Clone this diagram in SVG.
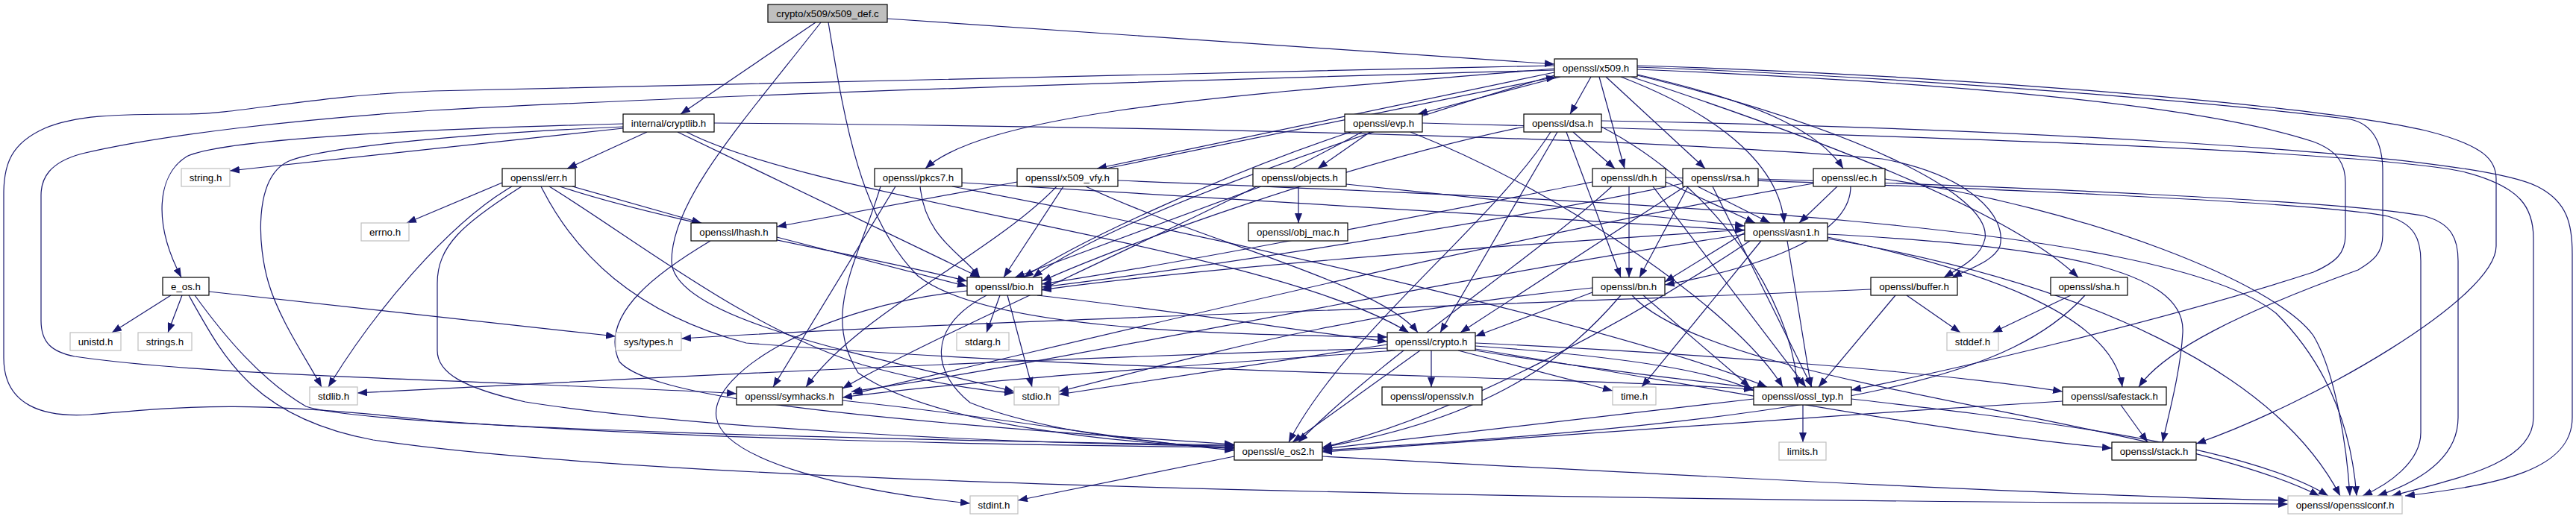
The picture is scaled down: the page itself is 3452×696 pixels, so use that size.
<svg xmlns="http://www.w3.org/2000/svg" width="3452" height="696" viewBox="0 0 3452 696">
<style>
.e{fill:none;stroke:#191970;stroke-width:1.2;marker-end:url(#ah)}
.b rect{fill:#fff;stroke:#000;stroke-width:1.2}
.g rect{fill:#fff;stroke:#bfbfbf;stroke-width:1.2}
.r rect{fill:#bfbfbf;stroke:#000;stroke-width:1.2}
text{font-family:"Liberation Sans",Arial,Helvetica,sans-serif;font-size:13.3px;fill:#000;text-anchor:middle}
</style>
<defs>
<marker id="ah" markerUnits="userSpaceOnUse" markerWidth="13" markerHeight="10" viewBox="0 0 13 10" refX="13" refY="5" orient="auto">
<path d="M0,0 L13,5 L0,10 z" fill="#191970"/>
</marker>
</defs>
<rect width="3452" height="696" fill="#fff"/>
<g id="edges">
<path class="e" d="M1093,30 L912,153"/>
<path class="e" d="M1189,25 L2083,86"/>
<path class="e" d="M1100,30 C990,170 900,270 900,350 C900,430 1180,480 1359,525"/>
<path class="e" d="M1110,30 C1130,150 1150,290 1230,370 C1320,440 1600,448 1859,452"/>
<path class="e" d="M2091,103 L1900,153"/>
<path class="e" d="M2132,103 L2104,153"/>
<path class="e" d="M2143,103 L2177,226"/>
<path class="e" d="M2152,103 L2285,226"/>
<path class="e" d="M2194,100 C2370,140 2440,180 2470,226"/>
<path class="e" d="M2083,97 L1470,226"/>
<path class="e" d="M2083,92 C1700,125 1330,145 1240,226"/>
<path class="e" d="M2172,103 C2320,160 2385,230 2391,299"/>
<path class="e" d="M2083,101 C1750,200 1480,300 1384,372"/>
<path class="e" d="M2194,101 C2480,170 2670,260 2660,320 C2655,345 2625,360 2605,372"/>
<path class="e" d="M2186,103 C2480,200 2700,290 2785,372"/>
<path class="e" d="M2083,88 C1500,100 900,112 580,122 C420,128 320,153 250,153 C150,153 100,155 60,172 C15,192 5,220 5,260 L5,480 C5,545 60,560 120,556 C250,545 330,536 580,564 C900,588 1300,596 1654,600"/>
<path class="e" d="M2083,94 C1500,110 900,130 580,148 C400,160 220,180 110,206 C65,218 55,240 55,262 L55,430 C55,460 70,472 100,478 C250,500 500,506 700,515 C850,521 950,525 987,528"/>
<path class="e" d="M2194,93 C2600,110 2950,140 3100,190 C3135,203 3143,222 3143,245 L3143,315 C3143,340 3130,352 3100,365 C2900,430 2600,500 2481,523"/>
<path class="e" d="M2194,90 C2600,105 2990,140 3150,160 C3185,168 3193,200 3193,230 L3193,315 C3193,340 3180,350 3160,362 C3000,420 2900,470 2866,519"/>
<path class="e" d="M2194,88 C2600,100 3100,140 3250,175 C3330,195 3345,215 3345,240 L3345,330 C3345,400 3100,540 2943,595"/>
<path class="e" d="M867,177 L760,226"/>
<path class="e" d="M835,172 L308,229"/>
<path class="e" d="M835,166 C600,172 300,185 250,210 C210,235 205,300 243,372"/>
<path class="e" d="M835,170 C600,180 420,200 385,217 C340,240 345,330 360,380 C375,430 410,480 431,519"/>
<path class="e" d="M908,177 L1313,372"/>
<path class="e" d="M920,177 C1100,270 1700,330 1888,446"/>
<path class="e" d="M957,165 C1600,170 2200,185 2522,213 C2640,235 2690,290 2680,330 C2672,350 2640,360 2616,372"/>
<path class="e" d="M1836,177 L1766,226"/>
<path class="e" d="M1810,177 C1650,230 1450,320 1372,372"/>
<path class="e" d="M1825,177 C1600,300 1250,450 1129,521"/>
<path class="e" d="M1890,177 C2100,260 2330,420 2389,519"/>
<path class="e" d="M1906,165 C2500,180 3150,200 3300,230 C3380,250 3395,280 3395,320 L3395,560 C3395,620 3300,640 3205,665"/>
<path class="e" d="M2108,177 L2164,226"/>
<path class="e" d="M2099,177 L2172,372"/>
<path class="e" d="M2087,177 L1930,446"/>
<path class="e" d="M2078,177 C2000,300 1800,450 1727,593"/>
<path class="e" d="M2042,170 C1800,220 1500,330 1396,377"/>
<path class="e" d="M2146,170 C2300,250 2400,400 2409,519"/>
<path class="e" d="M2146,162 C2600,170 3300,200 3400,250 C3440,270 3447,300 3447,340 L3447,560 C3447,630 3350,650 3223,665"/>
<path class="e" d="M2183,250 L2183,372"/>
<path class="e" d="M2232,244 L2352,299"/>
<path class="e" d="M2134,244 C1900,290 1600,350 1396,381"/>
<path class="e" d="M2160,250 C2050,350 1850,480 1740,593"/>
<path class="e" d="M2215,250 L2420,519"/>
<path class="e" d="M2232,238 C2600,250 3100,270 3200,290 C3235,300 3244,320 3244,350 L3244,580 C3244,620 3200,650 3166,665"/>
<path class="e" d="M2275,250 L2372,299"/>
<path class="e" d="M2262,250 L2197,372"/>
<path class="e" d="M2255,246 C2000,300 1600,360 1396,385"/>
<path class="e" d="M2258,250 L1957,446"/>
<path class="e" d="M2295,250 L2428,519"/>
<path class="e" d="M2356,240 C2700,250 3150,270 3250,290 C3285,300 3294,320 3294,350 L3294,560 C3294,620 3230,650 3186,665"/>
<path class="e" d="M2462,250 L2411,299"/>
<path class="e" d="M2480,250 C2480,320 2350,360 2231,382"/>
<path class="e" d="M2430,246 C2000,320 1400,470 1143,528"/>
<path class="e" d="M2526,240 C2800,280 3050,380 3100,450 C3130,500 3145,600 3149,665"/>
<path class="e" d="M2360,323 L2200,519"/>
<path class="e" d="M2345,323 C2200,420 1950,560 1772,600"/>
<path class="e" d="M2449,320 C2800,380 3050,500 3136,665"/>
<path class="e" d="M2338,308 C2000,330 1600,360 1396,389"/>
<path class="e" d="M2449,314 C2750,330 2930,360 2925,446 C2922,500 2905,560 2898,593"/>
<path class="e" d="M2449,318 C2650,360 2830,420 2844,519"/>
<path class="e" d="M2338,314 C1900,380 1400,490 1141,525"/>
<path class="e" d="M2395,323 L2427,519"/>
<path class="e" d="M2338,312 L2231,378"/>
<path class="e" d="M2172,396 C2100,480 2000,560 1772,600"/>
<path class="e" d="M2134,386 C1800,420 1600,480 1419,525"/>
<path class="e" d="M2187,396 C2300,520 2900,560 3108,665"/>
<path class="e" d="M2202,396 L2345,519"/>
<path class="e" d="M2134,392 L1977,451"/>
<path class="e" d="M1340,396 L1322,446"/>
<path class="e" d="M1350,396 L1383,519"/>
<path class="e" d="M1390,396 C1600,420 1750,445 1859,458"/>
<path class="e" d="M1322,396 C1240,440 1250,500 1300,540 C1400,580 1550,595 1654,602"/>
<path class="e" d="M1296,390 C1100,410 950,500 960,560 C970,620 1150,660 1300,675"/>
<path class="e" d="M1918,470 L1918,519"/>
<path class="e" d="M1954,470 L2161,524"/>
<path class="e" d="M1903,470 L1732,593"/>
<path class="e" d="M1859,462 L1419,529"/>
<path class="e" d="M1859,467 C1400,480 800,510 479,527"/>
<path class="e" d="M1870,470 C1600,490 1300,510 1129,533"/>
<path class="e" d="M1977,464 C2200,480 2300,500 2350,524"/>
<path class="e" d="M1977,460 C2300,475 2600,500 2764,525"/>
<path class="e" d="M1977,468 C2300,520 2600,580 2830,601"/>
<path class="e" d="M1977,470 C2400,540 2950,560 3120,665"/>
<path class="e" d="M2555,396 L2627,446"/>
<path class="e" d="M2540,396 L2437,519"/>
<path class="e" d="M2507,388 C2000,410 1300,430 913,454"/>
<path class="e" d="M2775,396 L2670,446"/>
<path class="e" d="M2794,396 C2700,500 2500,560 1772,604"/>
<path class="e" d="M2842,543 L2878,593"/>
<path class="e" d="M2764,538 C2400,560 2000,590 1772,606"/>
<path class="e" d="M2416,543 L2416,593"/>
<path class="e" d="M2350,535 L1772,602"/>
<path class="e" d="M1129,537 C1350,560 1500,590 1654,604"/>
<path class="e" d="M1654,612 L1364,671"/>
<path class="e" d="M1772,612 C2300,640 2800,666 3066,671"/>
<path class="e" d="M673,245 L545,299"/>
<path class="e" d="M767,250 L940,299"/>
<path class="e" d="M686,250 C600,300 500,420 440,519"/>
<path class="e" d="M736,250 C850,320 1000,440 1155,489 C1250,515 1320,524 1359,527"/>
<path class="e" d="M750,250 C900,300 1150,340 1296,377"/>
<path class="e" d="M699,250 C620,300 586,330 586,380 L586,470 C586,500 620,520 704,539 C900,570 1300,595 1654,598"/>
<path class="e" d="M725,250 C770,340 850,420 1000,460 C1500,500 2100,505 2350,522"/>
<path class="e" d="M1041,318 L1296,384"/>
<path class="e" d="M952,323 C890,360 800,420 830,485 C870,530 1100,560 1654,596"/>
<path class="e" d="M1740,250 L1740,299"/>
<path class="e" d="M1690,250 L1360,372"/>
<path class="e" d="M1804,247 L2338,303"/>
<path class="e" d="M1289,245 L2338,309"/>
<path class="e" d="M1233,250 C1240,320 1290,340 1313,372"/>
<path class="e" d="M1180,250 C1150,350 1100,420 1150,500 C1250,570 1500,595 1654,600"/>
<path class="e" d="M1200,250 L1036,519"/>
<path class="e" d="M1276,250 C1700,330 2200,450 2368,519"/>
<path class="e" d="M1482,226 L2085,103"/>
<path class="e" d="M1363,244 L1041,304"/>
<path class="e" d="M1425,250 L1345,372"/>
<path class="e" d="M1455,250 C1600,320 1850,380 1900,446"/>
<path class="e" d="M1416,250 C1330,340 1150,420 1080,519"/>
<path class="e" d="M1498,242 C2200,270 2900,300 3050,420 C3110,480 3150,560 3158,665"/>
<path class="e" d="M229,396 L150,446"/>
<path class="e" d="M244,396 L225,446"/>
<path class="e" d="M280,391 L825,451"/>
<path class="e" d="M261,396 C300,450 350,510 410,545 C500,575 1200,590 1654,597"/>
<path class="e" d="M253,396 C300,480 340,560 500,590 C900,650 2000,670 3066,676"/>
</g>
<g id="n-root" class="r"><rect x="1029" y="6" width="160" height="24"/><text x="1109" y="22.5">crypto/x509/x509_def.c</text></g>
<g id="n-x509" class="b"><rect x="2083" y="79" width="111" height="24"/><text x="2138.5" y="95.5">openssl/x509.h</text></g>
<g id="n-cryptlib" class="b"><rect x="835" y="153" width="122" height="24"/><text x="896" y="169.5">internal/cryptlib.h</text></g>
<g id="n-evp" class="b"><rect x="1802" y="153" width="104" height="24"/><text x="1854" y="169.5">openssl/evp.h</text></g>
<g id="n-dsa" class="b"><rect x="2042" y="153" width="104" height="24"/><text x="2094" y="169.5">openssl/dsa.h</text></g>
<g id="n-string" class="g"><rect x="243" y="226" width="65" height="24"/><text x="275.5" y="242.5">string.h</text></g>
<g id="n-err" class="b"><rect x="673" y="226" width="98" height="24"/><text x="722" y="242.5">openssl/err.h</text></g>
<g id="n-pkcs7" class="b"><rect x="1172" y="226" width="117" height="24"/><text x="1230.5" y="242.5">openssl/pkcs7.h</text></g>
<g id="n-x509_vfy" class="b"><rect x="1363" y="226" width="135" height="24"/><text x="1430.5" y="242.5">openssl/x509_vfy.h</text></g>
<g id="n-objects" class="b"><rect x="1679" y="226" width="125" height="24"/><text x="1741.5" y="242.5">openssl/objects.h</text></g>
<g id="n-dh" class="b"><rect x="2134" y="226" width="98" height="24"/><text x="2183" y="242.5">openssl/dh.h</text></g>
<g id="n-rsa" class="b"><rect x="2255" y="226" width="101" height="24"/><text x="2305.5" y="242.5">openssl/rsa.h</text></g>
<g id="n-ec" class="b"><rect x="2430" y="226" width="96" height="24"/><text x="2478" y="242.5">openssl/ec.h</text></g>
<g id="n-errno" class="g"><rect x="484" y="299" width="64" height="24"/><text x="516" y="315.5">errno.h</text></g>
<g id="n-lhash" class="b"><rect x="926" y="299" width="115" height="24"/><text x="983.5" y="315.5">openssl/lhash.h</text></g>
<g id="n-obj_mac" class="b"><rect x="1673" y="299" width="133" height="24"/><text x="1739.5" y="315.5">openssl/obj_mac.h</text></g>
<g id="n-asn1" class="b"><rect x="2338" y="299" width="111" height="24"/><text x="2393.5" y="315.5">openssl/asn1.h</text></g>
<g id="n-e_os" class="b"><rect x="218" y="372" width="62" height="24"/><text x="249" y="388.5">e_os.h</text></g>
<g id="n-bio" class="b"><rect x="1296" y="372" width="100" height="24"/><text x="1346" y="388.5">openssl/bio.h</text></g>
<g id="n-bn" class="b"><rect x="2134" y="372" width="97" height="24"/><text x="2182.5" y="388.5">openssl/bn.h</text></g>
<g id="n-buffer" class="b"><rect x="2507" y="372" width="116" height="24"/><text x="2565" y="388.5">openssl/buffer.h</text></g>
<g id="n-sha" class="b"><rect x="2748" y="372" width="103" height="24"/><text x="2799.5" y="388.5">openssl/sha.h</text></g>
<g id="n-unistd" class="g"><rect x="94" y="446" width="68" height="24"/><text x="128" y="462.5">unistd.h</text></g>
<g id="n-strings" class="g"><rect x="185" y="446" width="72" height="24"/><text x="221" y="462.5">strings.h</text></g>
<g id="n-systypes" class="g"><rect x="825" y="446" width="88" height="24"/><text x="869" y="462.5">sys/types.h</text></g>
<g id="n-stdarg" class="g"><rect x="1282" y="446" width="70" height="24"/><text x="1317" y="462.5">stdarg.h</text></g>
<g id="n-crypto" class="b"><rect x="1859" y="446" width="118" height="24"/><text x="1918" y="462.5">openssl/crypto.h</text></g>
<g id="n-stddef" class="g"><rect x="2609" y="446" width="69" height="24"/><text x="2643.5" y="462.5">stddef.h</text></g>
<g id="n-stdlib" class="g"><rect x="415" y="519" width="64" height="24"/><text x="447" y="535.5">stdlib.h</text></g>
<g id="n-symhacks" class="b"><rect x="987" y="519" width="142" height="24"/><text x="1058" y="535.5">openssl/symhacks.h</text></g>
<g id="n-stdio" class="g"><rect x="1359" y="519" width="60" height="24"/><text x="1389" y="535.5">stdio.h</text></g>
<g id="n-opensslv" class="b"><rect x="1852" y="519" width="134" height="24"/><text x="1919" y="535.5">openssl/opensslv.h</text></g>
<g id="n-time" class="g"><rect x="2161" y="519" width="58" height="24"/><text x="2190" y="535.5">time.h</text></g>
<g id="n-ossl_typ" class="b"><rect x="2350" y="519" width="131" height="24"/><text x="2415.5" y="535.5">openssl/ossl_typ.h</text></g>
<g id="n-safestack" class="b"><rect x="2764" y="519" width="139" height="24"/><text x="2833.5" y="535.5">openssl/safestack.h</text></g>
<g id="n-e_os2" class="b"><rect x="1654" y="593" width="118" height="24"/><text x="1713" y="609.5">openssl/e_os2.h</text></g>
<g id="n-limits" class="g"><rect x="2384" y="593" width="63" height="24"/><text x="2415.5" y="609.5">limits.h</text></g>
<g id="n-stack" class="b"><rect x="2830" y="593" width="113" height="24"/><text x="2886.5" y="609.5">openssl/stack.h</text></g>
<g id="n-stdint" class="g"><rect x="1300" y="665" width="64" height="24"/><text x="1332" y="681.5">stdint.h</text></g>
<g id="n-opensslconf" class="g"><rect x="3066" y="665" width="153" height="24"/><text x="3142.5" y="681.5">openssl/opensslconf.h</text></g>
</svg>
